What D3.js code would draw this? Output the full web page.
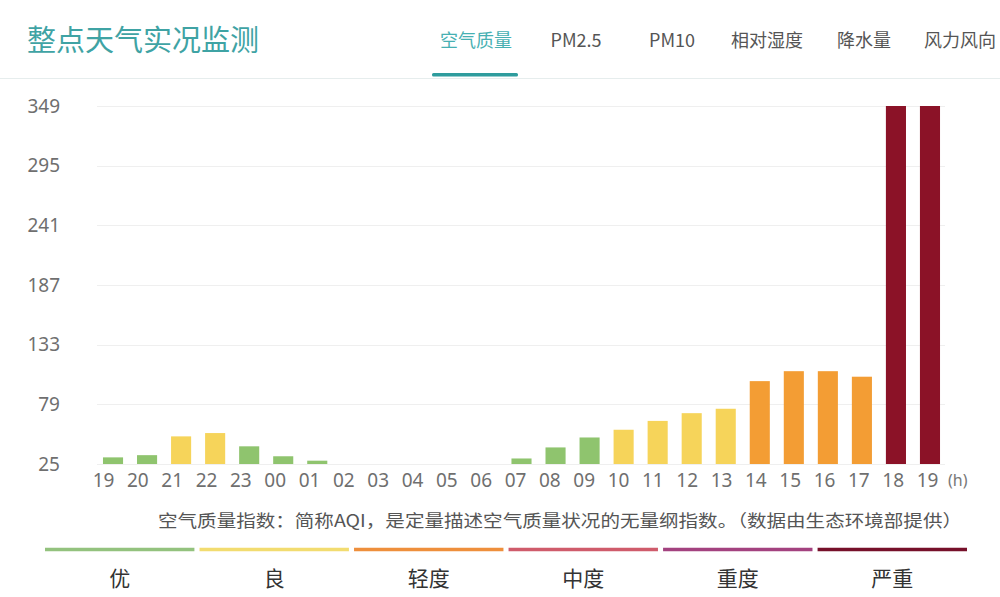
<!DOCTYPE html>
<html>
<head>
<meta charset="utf-8">
<script src="https://cdn.jsdelivr.net/npm/d3@7"></script>
<style>
  html, body { margin: 0; padding: 0; background: #fff; }
  svg { display: block; font-family: "Noto Sans CJK SC", "Noto Sans", sans-serif; }
</style>
</head>
<body>
<svg id="chart" width="1000" height="597"></svg>
<script>
// ---- data ----
const hours = ["19","20","21","22","23","00","01","02","03","04","05","06","07","08","09","10","11","12","13","14","15","16","17","18","19"];
const aqi = [31, 33, 50, 53, 41, 32, 28, null, null, null, null, null, 30, 40, 49, 56, 64, 71, 75, 100, 109, 109, 104, 349, 349];
const levels = [0, 0, 1, 1, 0, 0, 0, null, null, null, null, null, 0, 0, 0, 1, 1, 1, 1, 2, 2, 2, 2, 5, 5];
const yTicks = [25, 79, 133, 187, 241, 295, 349];
const levelNames = ["优", "良", "轻度", "中度", "重度", "严重"];
const barColors = ["#8fc46e", "#f6d45a", "#f39d34", "#d0596a", "#a2407e", "#8b1227"];
const legendColors = ["#93c27e", "#f2dc70", "#ee8f3c", "#cf5b6b", "#a3427f", "#76102a"];
const tabs = ["空气质量", "PM2.5", "PM10", "相对湿度", "降水量", "风力风向"];
const title = "整点天气实况监测";
const note = "空气质量指数：简称AQI，是定量描述空气质量状况的无量纲指数。（数据由生态环境部提供）";

const svg = d3.select("#chart");

// ---- header ----
svg.append("text").attr("x", 27).attr("y", 51)
  .attr("font-size", 29).attr("fill", "#3fa3a4").text(title);

const tabX = [476, 576, 672, 767, 864, 960];
svg.selectAll("text.tab").data(tabs).join("text")
  .attr("class", "tab")
  .attr("x", (d, i) => tabX[i]).attr("y", 47)
  .attr("text-anchor", "middle").attr("font-size", 18)
  .attr("fill", (d, i) => i === 0 ? "#47b0b2" : "#555")
  .text(d => d);

svg.append("line").attr("x1", 0).attr("x2", 1000).attr("y1", 78.5).attr("y2", 78.5)
  .attr("stroke", "#e6eded").attr("stroke-width", 1);
svg.append("rect").attr("x", 432).attr("y", 73).attr("width", 86).attr("height", 3.5)
  .attr("rx", 1.5).attr("fill", "#2e9c9d");

// ---- scales ----
const y = d3.scaleLinear().domain([25, 349]).range([464, 106]);
const idx = hours.map((d, i) => i);
const x = d3.scaleBand().domain(idx).range([96, 947]).paddingInner(0.41).paddingOuter(0.205);
const xl = d3.scalePoint().domain(idx).range([103, 927]);

// grid
svg.append("g").selectAll("line").data(yTicks).join("line")
  .attr("x1", 97).attr("x2", 945)
  .attr("y1", d => Math.round(y(d)) + 0.5).attr("y2", d => Math.round(y(d)) + 0.5)
  .attr("stroke", "#efefef").attr("stroke-width", 1);

// y axis labels
const yAxis = d3.axisLeft(y).tickValues(yTicks).tickSize(0).tickPadding(0);
const gy = svg.append("g").attr("transform", "translate(60,0)").call(yAxis);
gy.select(".domain").remove();
gy.selectAll("text").attr("font-size", 19).attr("fill", "#6f6f6f")
  .attr("font-family", "'Noto Sans', 'Noto Sans CJK SC', sans-serif");

// bars
svg.append("g").selectAll("rect")
  .data(idx.filter(i => aqi[i] != null))
  .join("rect")
  .attr("x", i => x(i))
  .attr("width", x.bandwidth())
  .attr("y", i => y(aqi[i]))
  .attr("height", i => y(25) - y(aqi[i]))
  .attr("fill", i => barColors[levels[i]]);

// x axis labels
const xAxis = d3.axisBottom(xl).tickFormat(i => hours[i]).tickSize(0).tickPadding(0);
const gx = svg.append("g").attr("transform", "translate(0,473)").call(xAxis);
gx.select(".domain").remove();
gx.selectAll("text").attr("font-size", 19).attr("fill", "#6f6f6f")
  .attr("font-family", "'Noto Sans', 'Noto Sans CJK SC', sans-serif");

svg.append("text").attr("x", 948).attr("y", 486).attr("font-size", 16)
  .attr("fill", "#777").attr("font-family", "'Noto Sans', sans-serif").text("(h)");

// note
svg.append("text").attr("x", 158).attr("y", 527).attr("font-size", 17)
  .attr("fill", "#555").attr("textLength", 804).attr("lengthAdjust", "spacingAndGlyphs")
  .text(note);

// ---- legend ----
const lx = d3.scaleBand().domain(levelNames).range([45, 967]).paddingInner(0.033);
svg.append("g").selectAll("line").data(levelNames).join("line")
  .attr("x1", d => lx(d)).attr("x2", d => lx(d) + lx.bandwidth())
  .attr("y1", 549.5).attr("y2", 549.5)
  .attr("stroke", (d, i) => legendColors[i]).attr("stroke-width", 3.5);
svg.append("g").selectAll("text").data(levelNames).join("text")
  .attr("x", d => lx(d) + lx.bandwidth() / 2).attr("y", 586)
  .attr("text-anchor", "middle").attr("font-size", 21).attr("fill", "#333")
  .text(d => d);
</script>
</body>
</html>
